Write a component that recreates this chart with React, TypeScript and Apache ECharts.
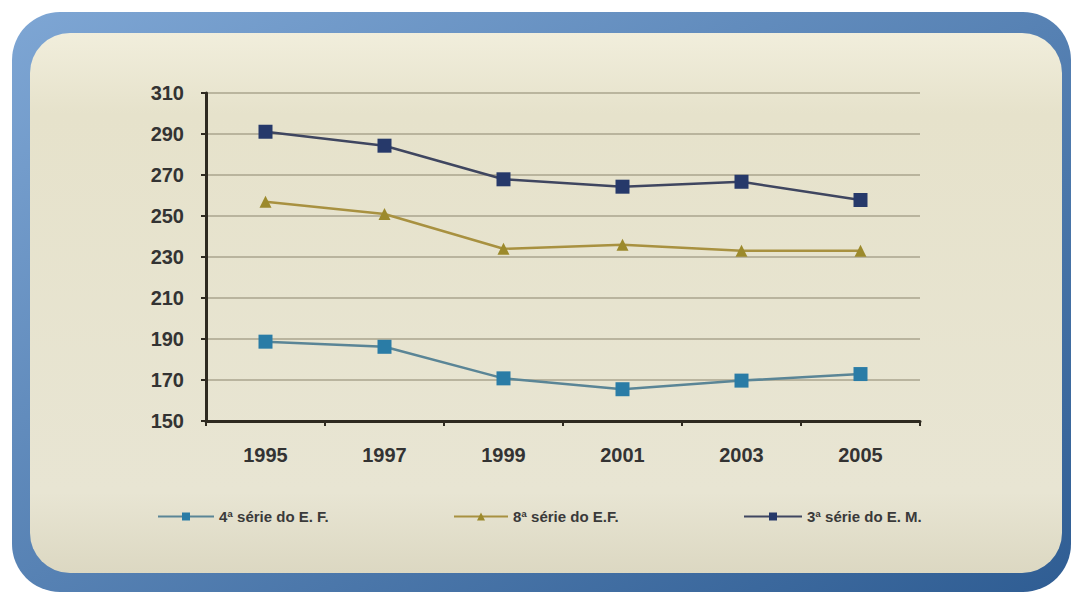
import React, { useEffect, useRef } from "react";
import * as echarts from "echarts";

const years = ["1995", "1997", "1999", "2001", "2003", "2005"];
const serie4EF = [188.7, 186.2, 170.8, 165.5, 169.7, 172.9];
const serie8EF = [257, 251, 234, 236, 233, 233];
const serie3EM = [291.1, 284.3, 267.9, 264.3, 266.7, 257.8];
const seriesNames = ["4ª série do E. F.", "8ª série do E.F.", "3ª série do E. M."];
const yTicks = { min: 150, max: 310, interval: 20 };

export default function App() {
  const ref = useRef<HTMLDivElement>(null);
  useEffect(() => {
    document.body.style.margin = "0";
    const chart = echarts.init(ref.current!, null, { renderer: "svg" });
    const legendText = {
      fontFamily: "Liberation Sans, Arial, sans-serif",
      fontSize: 15,
      fontWeight: "bold",
      color: "#3a3a3a",
    };
    chart.setOption({
      animation: false,
      graphic: [
        {
          type: "rect",
          z: -10,
          shape: { x: 12, y: 12, width: 1059, height: 580, r: 48 },
          style: {
            fill: new echarts.graphic.LinearGradient(0, 0, 1, 1, [
              { offset: 0, color: "#7ea6d4" },
              { offset: 1, color: "#2f5d93" },
            ]),
          },
        },
        {
          type: "rect",
          z: -9,
          shape: { x: 30, y: 33, width: 1032, height: 540, r: 40 },
          style: {
            fill: new echarts.graphic.LinearGradient(0, 0, 0, 1, [
              { offset: 0, color: "#f1eedc" },
              { offset: 0.15, color: "#e6e2cb" },
              { offset: 0.85, color: "#e8e5d3" },
              { offset: 1, color: "#dcd8c2" },
            ]),
          },
        },
      ],
      grid: { left: 206, right: 151, top: 93, bottom: 177, containLabel: false },
      legend: [
        { data: [seriesNames[0]], left: 152, top: 504, itemWidth: 56, itemHeight: 10, textStyle: legendText },
        { data: [seriesNames[1]], left: 448, top: 504, itemWidth: 54, itemHeight: 10, textStyle: legendText },
        { data: [seriesNames[2]], left: 738, top: 504, itemWidth: 58, itemHeight: 10, textStyle: legendText },
      ],
      xAxis: {
        type: "category",
        data: years,
        boundaryGap: true,
        axisLine: { lineStyle: { color: "#2e2a20", width: 3 } },
        axisTick: { show: true, alignWithLabel: false, length: 5, lineStyle: { color: "#2e2a20", width: 2 } },
        axisLabel: {
          margin: 24,
          fontSize: 20,
          fontWeight: "bold",
          fontFamily: "Liberation Sans, Arial, sans-serif",
          color: "#333",
        },
        splitLine: { show: false },
      },
      yAxis: {
        type: "value",
        min: yTicks.min,
        max: yTicks.max,
        interval: yTicks.interval,
        axisLine: { show: true, lineStyle: { color: "#2e2a20", width: 3 } },
        axisTick: { show: true, length: 5, lineStyle: { color: "#2e2a20", width: 2 } },
        axisLabel: {
          margin: 22,
          fontSize: 20,
          fontWeight: "bold",
          fontFamily: "Liberation Sans, Arial, sans-serif",
          color: "#333",
        },
        splitLine: { show: true, lineStyle: { color: "#aaa48e", width: 1.5 } },
      },
      series: [
        {
          name: seriesNames[0],
          type: "line",
          data: serie4EF,
          symbol: "rect",
          symbolSize: 14,
          lineStyle: { color: "#5a8596", width: 2.5 },
          itemStyle: { color: "#2a7ca6" },
        },
        {
          name: seriesNames[1],
          type: "line",
          data: serie8EF,
          symbol: "triangle",
          symbolSize: 12,
          lineStyle: { color: "#a89140", width: 2.5 },
          itemStyle: { color: "#9c8a2c" },
        },
        {
          name: seriesNames[2],
          type: "line",
          data: serie3EM,
          symbol: "rect",
          symbolSize: 14,
          lineStyle: { color: "#3f4660", width: 2.5 },
          itemStyle: { color: "#26396a" },
        },
      ],
    });
    return () => chart.dispose();
  }, []);
  return <div ref={ref} style={{ width: 1071, height: 598 }} />;
}
